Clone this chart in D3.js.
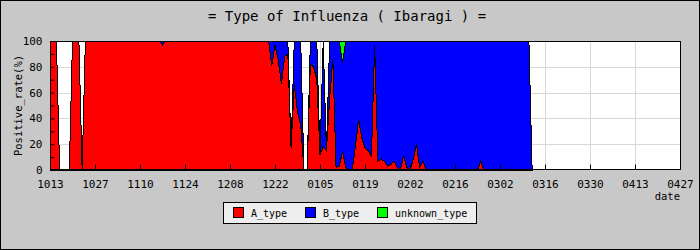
<!DOCTYPE html>
<meta charset="utf-8">
<html>
  <head>
    <style>
      body { margin: 0; background: #c8c8c8; }
      text { font-family: "DejaVu Sans Mono", monospace; fill: #000; }
      .axis path { display: none; }
      .axis line { stroke: #000; }
      .axis text { font-size: 11px; }
      .grid line { stroke: #d8d8d8; }
    </style>
    <script src="https://d3js.org/d3.v7.min.js"></script>
  </head>
  <body>
    <div id="chart"></div>
    <script type="text/javascript">
      // daily positive rate (%) from 2009-10-13, one value per day
      var aType = [100,100,100,0,0,0,0,100,100,100,0,
        100,100,100,100,100,100,100,100,100,100,100,100,100,100,100,100,100,100,100,100,100,100,100,100,
        97,
        100,100,100,100,100,100,100,100,100,100,100,100,100,100,100,100,100,100,100,100,100,100,100,100,100,100,100,100,100,100,100,100,100,
        81,97,85,67,88,90,17,66,45,35,0,0,82,80,70,12,18,15,55,86,2,3,14,2,0,0,
        18,39,25,17,15,10,97,7,8,7,3,4,7,2,0,11,2,0,8,20,2,7,
        0,0,0,0,0,0,0,0,0,0,0,0,0,0,0,0,0,
        7,
        0,0,0,0,0,0,0,0,0,0,0,0,0,0,0,0];
      var bType = [0,0,0,0,0,0,0,0,0,0,0,
        0,0,0,0,0,0,0,0,0,0,0,0,0,0,0,0,0,0,0,0,0,0,0,0,
        3,
        0,0,0,0,0,0,0,0,0,0,0,0,0,0,0,0,0,0,0,0,0,0,0,0,0,0,0,0,0,0,0,0,0,
        19,3,15,33,12,10,0,34,55,65,0,0,18,20,30,0,82,0,45,14,98,97,69,98,100,100,
        82,61,75,83,85,90,3,93,92,93,97,96,93,98,100,89,98,100,92,80,98,93,
        100,100,100,100,100,100,100,100,100,100,100,100,100,100,100,100,100,
        93,
        100,100,100,100,100,100,100,100,100,100,100,100,100,100,100,0];
      var unknownType = [0,0,0,0,0,0,0,0,0,0,0,
        0,0,0,0,0,0,0,0,0,0,0,0,0,0,0,0,0,0,0,0,0,0,0,0,
        0,
        0,0,0,0,0,0,0,0,0,0,0,0,0,0,0,0,0,0,0,0,0,0,0,0,0,0,0,0,0,0,0,0,0,
        0,0,0,0,0,0,0,0,0,0,0,0,0,0,0,0,0,0,0,0,0,0,17,0,0,0,
        0,0,0,0,0,0,0,0,0,0,0,0,0,0,0,0,0,0,0,0,0,0,
        0,0,0,0,0,0,0,0,0,0,0,0,0,0,0,0,0,
        0,
        0,0,0,0,0,0,0,0,0,0,0,0,0,0,0,0];
      var tickLabels = ["1013","1027","1110","1124","1208","1222","0105","0119","0202","0216","0302","0316","0330","0413","0427"];
      var seriesNames = ["A_type", "B_type", "unknown_type"];
      var colors = ["#ff0000", "#0000ff", "#00ff00"];

      var width = 700, height = 250,
          plotL = 50, plotR = 680, plotT = 41, plotB = 170;

      var start = new Date(Date.UTC(2009, 9, 13)),
          end = new Date(Date.UTC(2010, 3, 27));

      var table = aType.map(function(a, i) {
        return { date: d3.utcDay.offset(start, i), A_type: a, B_type: bType[i], unknown_type: unknownType[i] };
      });

      var x = d3.scaleUtc().domain([start, end]).range([plotL, plotR]);
      var y = d3.scaleLinear().domain([0, 100]).range([plotB, plotT]);

      var svg = d3.select("#chart").append("svg")
          .attr("width", width)
          .attr("height", height)
          .style("display", "block");

      svg.append("rect")
          .attr("x", 0.5).attr("y", 0.5)
          .attr("width", width - 1).attr("height", height - 1)
          .attr("fill", "#c8c8c8").attr("stroke", "#000");

      svg.append("text")
          .attr("x", 347).attr("y", 21)
          .attr("text-anchor", "middle")
          .style("font-size", "14px")
          .text("= Type of Influenza ( Ibaragi ) =");

      svg.append("rect")
          .attr("x", plotL).attr("y", plotT)
          .attr("width", plotR - plotL).attr("height", plotB - plotT)
          .attr("fill", "#fff");

      var tickDates = tickLabels.map(function(d, i) { return d3.utcDay.offset(start, i * 14); });

      // grid
      var grid = svg.append("g").attr("class", "grid");
      grid.selectAll(".gx").data(tickDates).enter().append("line")
          .attr("x1", function(d) { return Math.round(x(d)) + 0.5; })
          .attr("x2", function(d) { return Math.round(x(d)) + 0.5; })
          .attr("y1", plotT).attr("y2", plotB);
      grid.selectAll(".gy").data([20, 40, 60, 80]).enter().append("line")
          .attr("x1", plotL).attr("x2", plotR)
          .attr("y1", function(d) { return Math.round(y(d)) + 0.5; })
          .attr("y2", function(d) { return Math.round(y(d)) + 0.5; });

      // stacked areas
      var stack = d3.stack().keys(seriesNames);
      var layers = stack(table);

      var area = d3.area()
          .x(function(d) { return x(d.data.date); })
          .y0(function(d) { return y(d[0]); })
          .y1(function(d) { return y(d[1]); });

      svg.selectAll(".layer")
          .data(layers)
          .enter().append("path")
            .attr("class", "layer")
            .attr("d", area)
            .attr("fill", function(d, i) { return colors[i]; })
            .attr("stroke", "#000")
            .attr("stroke-width", 1)
            .attr("shape-rendering", "crispEdges");

      // frame
      svg.append("rect")
          .attr("x", plotL + 0.5).attr("y", plotT + 0.5)
          .attr("width", plotR - plotL).attr("height", plotB - plotT - 1)
          .attr("fill", "none").attr("stroke", "#000");

      var xAxis = d3.axisBottom(x)
          .tickValues(tickDates)
          .tickFormat(function(d, i) { return tickLabels[i]; })
          .tickSizeInner(-5).tickSizeOuter(0).tickPadding(11);
      svg.append("g")
          .attr("class", "axis")
          .attr("transform", "translate(0," + (plotB - 0.5) + ")")
          .call(xAxis);

      var yAxis = d3.axisLeft(y)
          .tickValues(d3.range(0, 101, 10))
          .tickFormat(function(d) { return d % 20 === 0 ? d : ""; })
          .tickSizeInner(-4).tickSizeOuter(0).tickPadding(8);
      svg.append("g")
          .attr("class", "axis")
          .attr("transform", "translate(" + (plotL + 0.5) + ",0)")
          .call(yAxis);

      svg.append("text")
          .attr("transform", "translate(22," + ((plotT + plotB) / 2) + ") rotate(-90)")
          .attr("text-anchor", "middle")
          .style("font-size", "10.5px")
          .text("Positive_rate(%)");

      svg.append("text")
          .attr("x", plotR).attr("y", 200)
          .attr("text-anchor", "end")
          .style("font-size", "10.5px")
          .text("date");

      // legend
      var legendX = [233, 305, 377];
      var legend = svg.append("g");
      legend.append("rect")
          .attr("x", 223.5).attr("y", 202.5)
          .attr("width", 253).attr("height", 21)
          .attr("fill", "#eeeeee").attr("stroke", "#000");
      var items = legend.selectAll(".item").data(seriesNames)
          .enter().append("g").attr("class", "item");
      items.append("rect")
          .attr("x", function(d, i) { return legendX[i] + 0.5; })
          .attr("y", 207.5)
          .attr("width", 10).attr("height", 10)
          .attr("fill", function(d, i) { return colors[i]; })
          .attr("stroke", "#000");
      items.append("text")
          .attr("x", function(d, i) { return legendX[i] + 18; })
          .attr("y", 216.5)
          .style("font-size", "10px")
          .text(function(d) { return d; });
    </script>
  </body>
</html>
